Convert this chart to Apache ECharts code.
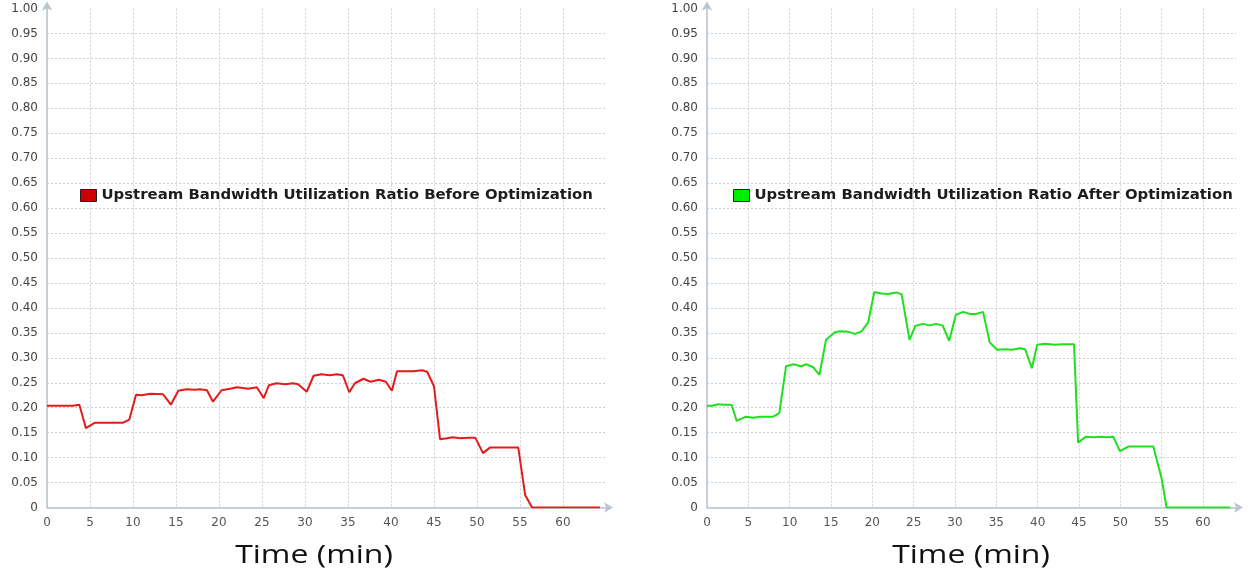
<!DOCTYPE html>
<html>
<head>
<meta charset="utf-8">
<script type="text/javascript" src="https://cdn.jsdelivr.net/npm/echarts@6/dist/echarts.min.js"></script>
<style>
 html, body { margin: 0; padding: 0; background: #fff; }
 #chart { width: 1254px; height: 576px; }
</style>
</head>
<body>
<div id="chart"></div>
<script type="text/javascript">
// data (time in minutes, utilization ratio)
var timeBefore = [0, 1.5, 3.0, 3.76, 4.53, 5.58, 7.0, 8.87, 9.57, 10.35, 11.0, 12.0, 13.5, 14.4, 15.27, 16.2, 17.2, 17.8, 18.6, 19.3,
  20.3, 21.3, 22.1, 23.4, 24.4, 25.2, 25.8, 26.7, 27.7, 28.6, 29.2, 30.2, 31.0, 31.9, 32.9, 33.7, 34.4, 35.15, 35.8, 36.8,
  37.6, 38.6, 39.4, 40.1, 40.7, 42.6, 43.6, 44.2, 45.0, 45.7, 46.5, 47.2, 48.0, 49.0, 49.8, 50.7, 51.5, 54.8, 55.6, 56.4, 64.3];
var ratioBefore = [0.204, 0.204, 0.204, 0.206, 0.159, 0.170, 0.170, 0.170, 0.176, 0.226, 0.225, 0.228, 0.227, 0.206, 0.234, 0.237, 0.236, 0.237, 0.235, 0.212,
  0.235, 0.238, 0.241, 0.238, 0.241, 0.219, 0.245, 0.249, 0.247, 0.249, 0.247, 0.232, 0.264, 0.267, 0.265, 0.267, 0.265, 0.231, 0.249, 0.258,
  0.252, 0.256, 0.252, 0.234, 0.273, 0.273, 0.275, 0.272, 0.243, 0.137, 0.139, 0.141, 0.139, 0.140, 0.140, 0.109, 0.120, 0.120, 0.025, 0, 0];

var timeAfter = [0, 0.6, 1.37, 2.18, 2.98, 3.59, 4.72, 5.6, 6.4, 8.0, 8.75, 9.56, 10.44, 11.37, 12.06, 12.86, 13.6, 14.4, 15.48, 16.1,
  17.1, 17.9, 18.7, 19.5, 20.24, 21.1, 21.9, 22.9, 23.55, 24.5, 25.2, 26.1, 27.0, 27.7, 28.5, 29.3, 30.1, 31.0, 31.8, 32.6,
  33.4, 34.2, 35.1, 36.05, 36.9, 37.9, 38.5, 39.3, 39.95, 40.9, 42.1, 42.9, 44.4, 44.9, 45.85, 46.7, 47.75, 48.35, 49.15, 49.95,
  50.96, 54.0, 55.0, 55.6, 63.3];
var ratioAfter = [0.204, 0.204, 0.207, 0.206, 0.206, 0.1735, 0.182, 0.180, 0.182, 0.182, 0.189, 0.283, 0.287, 0.283, 0.287, 0.281, 0.266, 0.336, 0.351, 0.353,
  0.352, 0.348, 0.353, 0.371, 0.432, 0.429, 0.428, 0.431, 0.427, 0.336, 0.364, 0.368, 0.365, 0.368, 0.365, 0.334, 0.386, 0.392, 0.388, 0.388,
  0.392, 0.331, 0.316, 0.317, 0.316, 0.319, 0.317, 0.279, 0.326, 0.328, 0.326, 0.327, 0.327, 0.130, 0.142, 0.141, 0.142, 0.141, 0.142, 0.113,
  0.122, 0.122, 0.058, 0, 0];

var nameBefore = 'Upstream Bandwidth Utilization Ratio Before Optimization';
var nameAfter = 'Upstream Bandwidth Utilization Ratio After Optimization';
var xTicks = [0, 5, 10, 15, 20, 25, 30, 35, 40, 45, 50, 55, 60];

function pairs(xs, ys) {
 var out = [];
 for (var i = 0; i < xs.length; i++) out.push([xs[i], ys[i]]);
 return out;
}

var gridLine = { show: true, showMaxLine: false, lineStyle: { color: '#c9d2da', type: [2, 2], width: 1 } };
var axisLn = { show: true, symbol: ['none', 'arrow'], symbolSize: [8, 9], symbolOffset: [0, 7],
 lineStyle: { color: '#b9c5cf', width: 1.5 } };

function xAx(idx, max) {
 return {
  type: 'value', gridIndex: idx, min: 0, max: max, interval: 5,
  axisLine: axisLn, axisTick: { show: false }, splitLine: gridLine,
  axisLabel: {
   margin: 9, color: '#555', fontFamily: 'DejaVu Sans', fontSize: 12,
   formatter: function (v) { return xTicks.indexOf(v) >= 0 ? String(v) : ''; }
  }
 };
}
function yAx(idx) {
 return {
  type: 'value', gridIndex: idx, min: 0, max: 1, interval: 0.05,
  axisLine: axisLn, axisTick: { show: false }, splitLine: gridLine,
  axisLabel: {
   margin: 9, color: '#444', fontFamily: 'DejaVu Sans', fontSize: 12,
   formatter: function (v) { return v === 0 ? '0' : v.toFixed(2); }
  }
 };
}
function legendOf(name, color, left) {
 return {
  data: [{ name: name, itemStyle: { color: color, borderColor: '#222', borderWidth: 1 } }],
  left: left, top: 188, padding: 0, icon: 'rect', itemWidth: 16, itemHeight: 12,
  textStyle: { fontFamily: 'DejaVu Sans', fontWeight: 'bold', fontSize: 14.9, color: '#1c1c1c' }
 };
}
function axisTitle(cx) {
 return {
  type: 'text', x: cx, y: 556, scaleX: 1.23,
  style: { text: 'Time (min)', font: '26px "Open Sans"', fill: '#111', align: 'center', verticalAlign: 'middle' }
 };
}

var chart = echarts.init(document.getElementById('chart'));
chart.setOption({
 animation: false,
 backgroundColor: '#fff',
 grid: [
  { left: 47, top: 8.5, width: 559, height: 499 },
  { left: 707, top: 8.5, width: 529, height: 499 }
 ],
 xAxis: [xAx(0, 65), xAx(1, 64)],
 yAxis: [yAx(0), yAx(1)],
 legend: [legendOf(nameBefore, '#cc0000', 80), legendOf(nameAfter, '#00ee00', 733)],
 graphic: [axisTitle(314), axisTitle(971)],
 series: [
  { name: nameBefore, type: 'line', xAxisIndex: 0, yAxisIndex: 0, showSymbol: false, color: '#e31b1b',
    lineStyle: { width: 2 }, data: pairs(timeBefore, ratioBefore) },
  { name: nameAfter, type: 'line', xAxisIndex: 1, yAxisIndex: 1, showSymbol: false, color: '#1ee01e',
    lineStyle: { width: 2 }, data: pairs(timeAfter, ratioAfter) }
 ]
});
</script>
</body>
</html>
